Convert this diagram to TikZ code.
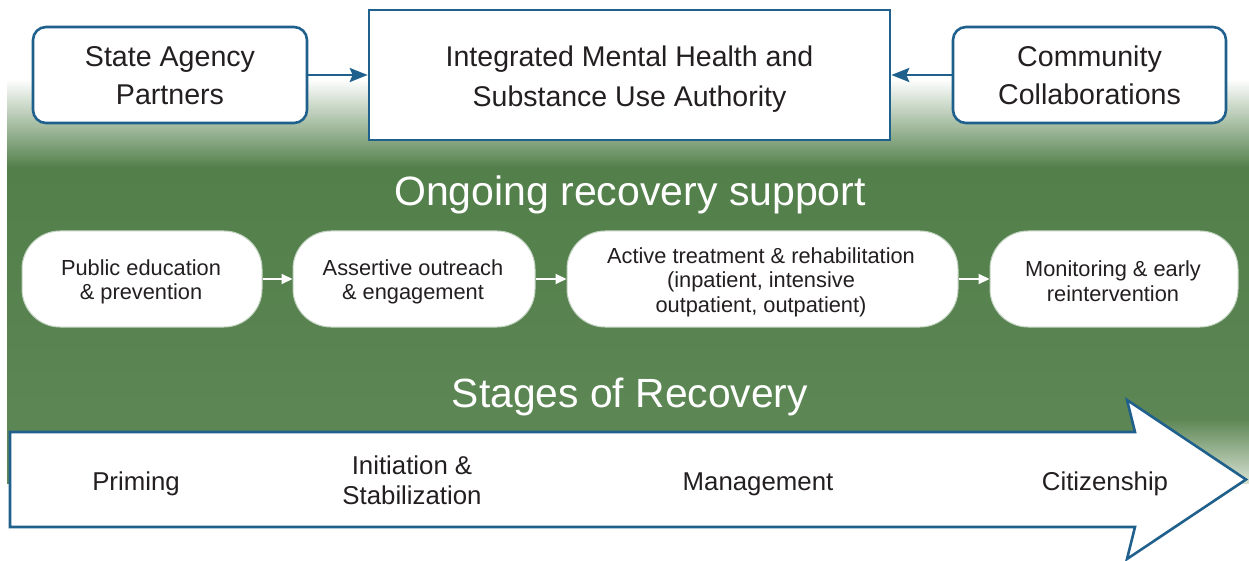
\documentclass[tikz,border=0pt]{standalone}
\usepackage{fontspec}
\setmainfont{Liberation Sans}
\usetikzlibrary{arrows.meta}
\definecolor{bblue}{RGB}{32,96,140}
\definecolor{gtext}{RGB}{35,31,32}
\definecolor{gA}{RGB}{82,127,74}
\definecolor{gB}{RGB}{95,136,87}
\definecolor{gPale}{RGB}{215,225,210}
\tikzset{
  topbox/.style={draw=bblue, line width=2.6pt, fill=white, rounded corners=13pt, text=gtext,
    align=center, inner sep=0pt, font=\fontsize{28.6}{38}\selectfont},
  titlebox/.style={draw=bblue, line width=2.6pt, fill=white, text=gtext,
    align=center, inner sep=0pt, font=\fontsize{28.5}{40}\selectfont},
  boxtext/.style={text=gtext, align=center, inner sep=0pt},
  pill/.style={draw=gA!35!white, line width=1pt, fill=white, rounded corners=38pt, text=gtext,
    align=center, inner sep=0pt, minimum height=96pt, font=\fontsize{21.8}{24.5}\selectfont},
  pilltext/.style={text=gtext, align=center, inner sep=0pt, font=\fontsize{21.8}{24.5}\selectfont},
  headline/.style={text=white, inner sep=0pt},
  stagetxt/.style={text=gtext, align=center, inner sep=0pt, font=\fontsize{25.8}{30}\selectfont},
  bluearrow/.style={draw=bblue, line width=2.6pt, -{Stealth[length=18pt,width=14pt,inset=3pt]}},
  whitearrow/.style={draw=white, line width=2pt, -{Triangle[length=11pt,width=10pt]}},
  bigarrow/.style={draw=bblue, line width=2.6pt, fill=white, line join=miter},
}
\begin{document}
\begin{tikzpicture}[x=1pt,y=-1pt]
\useasboundingbox (0,0) rectangle (1249,561);
% green background
\shade[top color=white, bottom color=gA] (7,79) rectangle (1249,168);
\shade[top color=gA, bottom color=gB] (7,167.5) rectangle (1249,483);
\shade[top color=gB, bottom color=gPale] (1160,420) rectangle (1249,483);
% top row
\node[topbox, minimum width=274pt, minimum height=96pt] (state) at (170,75) {};
\node[boxtext, font=\fontsize{28.6}{38}\selectfont] (statet) at (170,76) {State Agency\\Partners};
\node[titlebox, minimum width=521pt, minimum height=130pt] (auth) at (629.5,75) {};
\node[boxtext, font=\fontsize{28.5}{40}\selectfont] (autht) at (629.5,79) {Integrated Mental Health and\\Substance Use Authority};
\node[topbox, minimum width=273pt, minimum height=96pt] (comm) at (1089.5,75) {};
\node[boxtext, font=\fontsize{28.6}{38}\selectfont] (commt) at (1089.5,75.5) {Community\\Collaborations};
\draw[bluearrow] (state.east) -- (auth.west |- state.east);
\draw[bluearrow] (comm.west) -- (auth.east |- comm.west);
% ongoing recovery
\node[headline, font=\fontsize{41}{43}\selectfont] (ongo) at (630,195) {Ongoing recovery support};
\node[pill, minimum width=240pt] (p1) at (142,279) {};
\node[pill, minimum width=242pt] (p2) at (414,279) {};
\node[pill, minimum width=391pt] (p3) at (762.5,279) {};
\node[pill, minimum width=248pt] (p4) at (1114,279) {};
\node[pilltext] (p1t) at (141,282) {Public education\\\& prevention};
\node[pilltext] (p2t) at (413,282) {Assertive outreach\\\& engagement};
\node[pilltext] (p3t) at (761,282) {Active treatment \& rehabilitation\\(inpatient, intensive\\outpatient, outpatient)};
\node[pilltext] (p4t) at (1113,281) {Monitoring \& early\\reintervention};
\draw[whitearrow] (p1.east) -- (p2.west);
\draw[whitearrow] (p2.east) -- (p3.west);
\draw[whitearrow] (p3.east) -- (p4.west);
% stages
\node[headline, font=\fontsize{40.8}{42}\selectfont] (stages) at (630,397) {Stages of Recovery};
\coordinate (a1) at (10,432);
\coordinate (a2) at (1135,432);
\coordinate (a3) at (1127,400);
\coordinate (a4) at (1246,479.5);
\coordinate (a5) at (1127,559);
\coordinate (a6) at (1135,527);
\coordinate (a7) at (10,527);
\draw[bigarrow] (a1) -- (a2) -- (a3) -- (a4) -- (a5) -- (a6) -- (a7) -- cycle;
\node[stagetxt] (s1) at (136,484) {Priming};
\node[stagetxt] (s2) at (412,480) {Initiation \&\\Stabilization};
\node[stagetxt] (s3) at (758,484) {Management};
\node[stagetxt] (s4) at (1105,484) {Citizenship};
\end{tikzpicture}
\end{document}
